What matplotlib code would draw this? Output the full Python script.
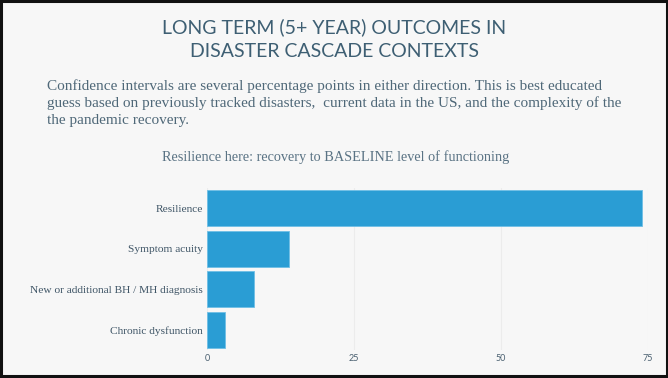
import matplotlib
matplotlib.use("Agg")
import matplotlib.pyplot as plt
from matplotlib.patches import Rectangle

categories = ["Resilience", "Symptom acuity", "New or additional BH / MH diagnosis", "Chronic dysfunction"]
values = [74, 14, 8, 3]
xticks = [0, 25, 50, 75]

title = "LONG TERM (5+ YEAR) OUTCOMES IN\nDISASTER CASCADE CONTEXTS"
body = ("Confidence intervals are several percentage points in either direction. This is best educated\n"
        "guess based on previously tracked disasters,  current data in the US, and the complexity of the\n"
        "the pandemic recovery.")
subtitle = "Resilience here: recovery to BASELINE level of functioning"

W, H = 668, 378
fig = plt.figure(figsize=(W / 100, H / 100), dpi=100)
bg = "#f7f7f7"
fig.patch.set_facecolor(bg)

fig.text(334 / W, 1 - 39 / H, title, ha="center", va="center", fontsize=14,
         color="#3e5f73", family="Lato", linespacing=1.5)
fig.text(47 / W, 1 - 103 / H, body, ha="left", va="center", fontsize=11,
         color="#4f6878", family="Liberation Serif", linespacing=1.38)
fig.text(336 / W, 1 - 157 / H, subtitle, ha="center", va="center", fontsize=10.3,
         color="#5a7384", family="Liberation Serif")

ax = fig.add_axes([207 / W, 1 - 350 / H, (648 - 207) / W, (350 - 188) / H])
ax.set_facecolor(bg)
y = list(range(len(categories)))
ax.barh(y, values, height=0.88, color="#2a9dd4", edgecolor="#6fbfe6", linewidth=0.6, zorder=3)
ax.set_xlim(0, 75)
ax.set_ylim(len(categories) - 0.5, -0.5)
ax.set_yticks(y)
ax.set_yticklabels(categories, fontsize=8.2, color="#3f5566", family="Liberation Serif")
ax.set_xticks(xticks)
ax.set_xticklabels([str(t) for t in xticks], fontsize=6.5, color="#4a6070", family="Lato")
ax.tick_params(axis="both", length=0)
ax.tick_params(axis="y", pad=3)
ax.tick_params(axis="x", pad=3)
ax.grid(axis="x", color="#ececec", linewidth=0.8, zorder=0)
for s in ax.spines.values():
    s.set_visible(False)

fig.patches.append(Rectangle((0.002, 0.004), 0.996, 0.993, transform=fig.transFigure,
                             fill=False, edgecolor="#111111", linewidth=2.2))

fig.savefig("out.png", dpi=100, facecolor=bg)
